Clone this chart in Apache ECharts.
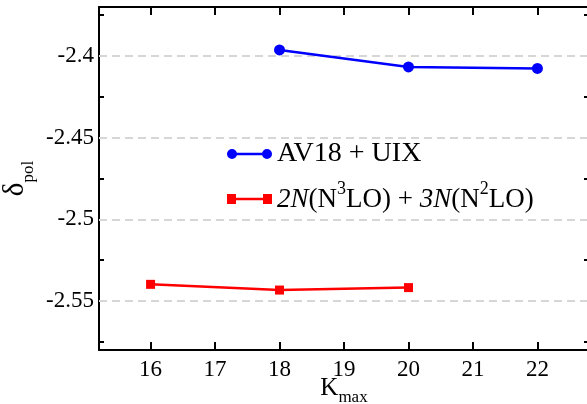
<!DOCTYPE html>
<html>
<head>
<meta charset="utf-8">
<script src="https://cdn.jsdelivr.net/npm/echarts@6/dist/echarts.min.js"></script>
<style>html,body{margin:0;padding:0;background:#fff}#c{width:587px;height:404px}</style>
</head>
<body>
<div id="c"></div>
<script>
const xTicks = [16, 17, 18, 19, 20, 21, 22];
const yLabels = [-2.55, -2.5, -2.45, -2.4];
const yTicks = [-2.575, -2.55, -2.525, -2.5, -2.475, -2.45, -2.425, -2.4, -2.375];
const avX = [18, 20, 22];
const avY = [-2.3963, -2.4067, -2.4076];
const chX = [16, 18, 20];
const chY = [-2.5398, -2.5433, -2.5418];
const xRange = [15.2, 22.8];
const yRange = [-2.58, -2.37];

const FONT = 'Liberation Serif';
const chart = echarts.init(document.getElementById('c'), null, {renderer: 'canvas'});

const axisLine = {show: true, onZero: false, lineStyle: {color: '#000', width: 2}};
const tickStyle = {lineStyle: {color: '#000', width: 2}};

const circIcon = 'path://M0,5A5,5 0 1,1 10,5A5,5 0 1,1 0,5Z M35,5A5,5 0 1,1 45,5A5,5 0 1,1 35,5Z M5,3.8L40,3.8L40,6.2L5,6.2Z';
const sqIcon = 'path://M0,0.5h9v9h-9Z M36,0.5h9v9h-9Z M9,3.8h27v2.4h-27Z';

const richBase = {
  n: {fontFamily: FONT, fontSize: 27, color: '#000', lineHeight: 28, verticalAlign: 'bottom'},
  it: {fontFamily: FONT, fontSize: 27, fontStyle: 'italic', color: '#000', lineHeight: 28, verticalAlign: 'bottom'},
  sup: {fontFamily: FONT, fontSize: 18, color: '#000', lineHeight: 18, verticalAlign: 'bottom', padding: [0, 0, 15, 0]}
};

chart.setOption({
  animation: false,
  grid: {left: 99, top: 7, width: 490, height: 343, containLabel: false, outerBoundsMode: 'none'},
  legend: [
    {
      left: 227, top: 140, orient: 'vertical', selectedMode: false, padding: 0,
      itemWidth: 45, itemHeight: 10, symbolKeepAspect: false,
      itemStyle: {borderWidth: 0, color: '#0000ff'},
      data: [{name: 'AV18 + UIX', icon: circIcon}],
      textStyle: {fontFamily: FONT, fontSize: 28, color: '#000'}
    },
    {
      left: 227, top: 180, orient: 'vertical', selectedMode: false, padding: 0,
      itemWidth: 45, itemHeight: 10, symbolKeepAspect: false,
      itemStyle: {borderWidth: 0, color: '#ff0000'},
      data: [{name: 'chiral', icon: sqIcon}],
      formatter: function () {
        return '{it|2N}{n|(N}{sup|3}{n|LO) + }{it|3N}{n|(N}{sup|2}{n|LO)}';
      },
      textStyle: {fontFamily: FONT, fontSize: 27, color: '#000', rich: richBase}
    }
  ],
  xAxis: [
    {
      type: 'value', position: 'bottom', min: xRange[0], max: xRange[1],
      axisLine: axisLine,
      axisTick: Object.assign({show: true, inside: true, length: 8, customValues: xTicks}, tickStyle),
      axisLabel: {customValues: xTicks, fontFamily: FONT, fontSize: 23, color: '#000', margin: 8},
      splitLine: {show: false},
      name: '{k|K}{s|max}', nameLocation: 'middle', nameGap: 26, nameMoveOverlap: false,
      nameTextStyle: {rich: {
        k: {fontFamily: FONT, fontSize: 25, color: '#000', verticalAlign: 'top', lineHeight: 30},
        s: {fontFamily: FONT, fontSize: 17, color: '#000', verticalAlign: 'bottom', lineHeight: 30}
      }}
    },
    {
      type: 'value', position: 'top', min: xRange[0], max: xRange[1],
      axisLine: axisLine,
      axisTick: Object.assign({show: true, inside: true, length: 8, customValues: xTicks}, tickStyle),
      axisLabel: {show: false},
      splitLine: {show: false}
    }
  ],
  yAxis: [
    {
      type: 'value', position: 'left', min: yRange[0], max: yRange[1],
      axisLine: axisLine,
      axisTick: Object.assign({show: true, inside: true, length: 5, customValues: yTicks}, tickStyle),
      axisLabel: {customValues: yLabels, fontFamily: FONT, fontSize: 23, color: '#000', margin: 5},
      splitLine: {show: false},
      name: '{d|δ}{s|pol}', nameLocation: 'middle', nameGap: 62, nameRotate: 90, nameMoveOverlap: false,
      nameTextStyle: {rich: {
        d: {fontFamily: FONT, fontSize: 29, color: '#000', verticalAlign: 'top', lineHeight: 36},
        s: {fontFamily: FONT, fontSize: 17, color: '#000', verticalAlign: 'bottom', lineHeight: 36}
      }}
    },
    {
      type: 'value', position: 'right', min: yRange[0], max: yRange[1],
      axisLine: axisLine,
      axisTick: Object.assign({show: true, inside: true, length: 5, customValues: yTicks}, tickStyle),
      axisLabel: {show: false},
      splitLine: {show: false}
    }
  ],
  series: [
    {
      name: 'grid', type: 'line', data: [], silent: true, z: 1,
      markLine: {
        silent: true, symbol: ['none', 'none'], label: {show: false}, animation: false,
        lineStyle: {color: '#d6d6d6', width: 2, type: [8, 5]},
        data: yLabels.map(v => ({yAxis: v}))
      }
    },
    {
      name: 'AV18 + UIX', type: 'line', z: 10,
      data: avX.map((x, i) => [x, avY[i]]),
      symbol: 'circle', symbolSize: 11,
      lineStyle: {color: '#0000ff', width: 2.5},
      itemStyle: {color: '#0000ff', borderWidth: 0}
    },
    {
      name: 'chiral', type: 'line', z: 10,
      data: chX.map((x, i) => [x, chY[i]]),
      symbol: 'rect', symbolSize: 9,
      lineStyle: {color: '#ff0000', width: 2.5},
      itemStyle: {color: '#ff0000', borderWidth: 0}
    }
  ]
});
</script>
</body>
</html>
